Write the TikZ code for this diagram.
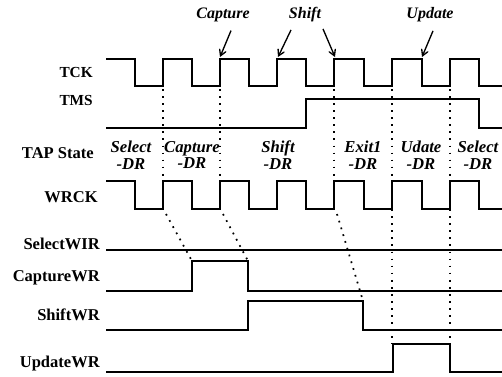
\documentclass[tikz,border=0pt]{standalone}
\usepackage{fontspec}
\setmainfont{Liberation Serif}
\usetikzlibrary{arrows}

\begin{document}
\begin{tikzpicture}[x=0.75pt, y=-0.75pt]
\tikzstyle{signal} = [font=\fontsize{12.4}{14}\selectfont\bfseries, anchor=base east, inner sep=0pt]
\tikzstyle{state} = [font=\fontsize{12.5}{12.5}\selectfont\bfseries\itshape, align=center, inner sep=0pt]
\tikzstyle{note} = [font=\fontsize{12}{13}\selectfont\bfseries\itshape, inner sep=1pt]
\tikzstyle{wave} = [line width=1.1pt, line join=miter]
\tikzstyle{guide} = [line width=1.3pt, dash pattern=on 1.3pt off 4pt]
\tikzstyle{arrow} = [line width=1pt,->,>=angle 60]

\useasboundingbox (0,0) rectangle (502,376);

% Signal names
\node (tck) [signal, font=\fontsize{11.5}{14}\selectfont\bfseries] at (93,77) {TCK};
\node (tms) [signal, font=\fontsize{11.5}{14}\selectfont\bfseries] at (93,105) {TMS};
\node (tap) [signal] at (94,158) {TAP State};
\node (wrck) [signal] at (98,202) {WRCK};
\node (selwir) [signal] at (100,249) {SelectWIR};
\node (capwr) [signal] at (100,281) {CaptureWR};
\node (shiftwr) [signal] at (100,320) {ShiftWR};
\node (updwr) [signal] at (100,367) {UpdateWR};

% Waveforms
\draw [wave] (106,59) foreach \a/\b in {135/163,192/220,249/277,306/334,364/392,422/450} {-- (\a,59) -- (\a,86) -- (\b,86) -- (\b,59)} -- (479,59) -- (479,86) -- (502,86);
\draw [wave] (106,128) -- (306,128) -- (306,99) -- (479,99) -- (479,128) -- (502,128);
\draw [wave] (106,181) foreach \a/\b in {135/163,192/220,249/277,306/334,364/392,422/450} {-- (\a,181) -- (\a,209) -- (\b,209) -- (\b,181)} -- (479,181) -- (479,209) -- (502,209);
\draw [wave] (106,250) -- (502,250);
\draw [wave] (106,291) -- (192,291) -- (192,261) -- (248,261) -- (248,291) -- (502,291);
\draw [wave] (106,330) -- (248,330) -- (248,301) -- (363,301) -- (363,330) -- (502,330);
\draw [wave] (106,372) -- (393,372) -- (393,344) -- (450,344) -- (450,372) -- (502,372);

% TAP states
\node (sSelA) [state] at (131,155) {Select\\-DR};
\node (sCap) [state] at (192,155) {Capture\\-DR};
\node (sShift) [state] at (278,155) {Shift\\-DR};
\node (sExit) [state] at (363,155) {Exit1\\-DR};
\node (sUpd) [state] at (421,155) {Udate\\-DR};
\node (sSelB) [state] at (478,155) {Select\\-DR};

% Timing guides
\draw [guide] (163,89) -- (163,181);
\draw [guide] (220,89) -- (220,181);
\draw [guide] (334,89) -- (334,181);
\draw [guide] (392,89) -- (392,344);
\draw [guide] (450,89) -- (450,344);
\draw [guide] (166,214) -- (192,261);
\draw [guide] (223,214) -- (248,261);
\draw [guide] (337,214) -- (363,301);

% Edge notes
\coordinate (capEdge) at (220,57);
\coordinate (shEdgeA) at (278,57);
\coordinate (shEdgeB) at (335,57);
\coordinate (updEdge) at (422,57);
\node (capture) [note] at (223,15) {Capture};
\node (shift) [note] at (305,15) {Shift};
\node (update) [note] at (430,15) {Update};
\draw [arrow] ([shift={(8,7)}]capture.south) -- (capEdge);
\draw [arrow] ([shift={(-14,6)}]shift.south) -- (shEdgeA);
\draw [arrow] ([shift={(18,5)}]shift.south) -- (shEdgeB);
\draw [arrow] ([shift={(3,7)}]update.south) -- (updEdge);

\end{tikzpicture}
\end{document}
